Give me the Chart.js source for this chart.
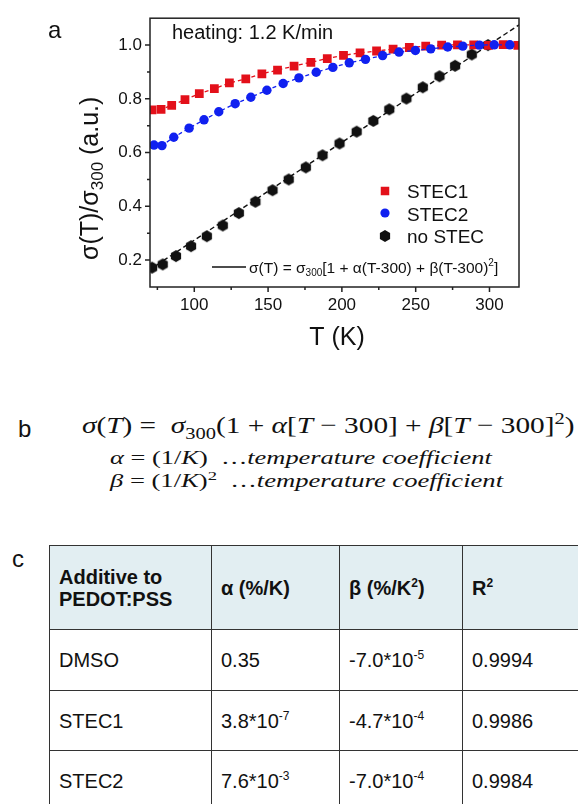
<!DOCTYPE html>
<html>
<head>
<meta charset="utf-8">
<script src="https://cdn.jsdelivr.net/npm/chart.js@4.4.1/dist/chart.umd.min.js"></script>
<style>
  body { margin: 0; width: 578px; height: 804px; overflow: hidden; position: relative; background: #fff;
         font-family: Arial, "Liberation Sans", sans-serif; color: #111; }
  #chart { position: absolute; left: 0; top: 0; }
  .tag { position: absolute; font-size: 24px; line-height: 24px; }
  .eq { position: absolute; left: 0; font-family: "Liberation Serif", serif; white-space: nowrap;
        transform-origin: 0 0; color: #111; }
  .eq sub, .eq sup { line-height: 0; font-size: 70%; }
  #tbl { position: absolute; left: 49px; top: 545px; border-collapse: collapse; table-layout: fixed;
         font-size: 20px; width: 573px; }
  #tbl td { border: 1.5px solid #333; padding: 0 0 0 9px; vertical-align: middle; line-height: 22px; }
  #tbl tr.head td { background: #e2eef2; font-weight: bold; }
  #tbl sup { font-size: 12px; line-height: 0; vertical-align: 8px; }
</style>
</head>
<body>
<canvas id="chart" width="578" height="360"></canvas>

<div class="tag" style="left:18px; top:417px;">b</div>
<div class="eq" id="eq1" data-x="82" data-w="493" style="top:413px; font-size:24px; line-height:24px;"><i>σ</i>(<i>T</i>) =&nbsp; <i>σ</i><sub>300</sub>(1 + <i>α</i>[<i>T</i> − 300] + <i>β</i>[<i>T</i> − 300]<sup>2</sup>)</div>
<div class="eq" id="eq2" data-x="110" data-w="382" style="top:448px; font-size:19px; line-height:19px;"><i>α</i> = (1/<i>K</i>)&nbsp; …<i>temperature coefficient</i></div>
<div class="eq" id="eq3" data-x="110" data-w="393" style="top:471px; font-size:19px; line-height:19px;"><i>β</i> = (1/<i>K</i>)<sup>2</sup>&nbsp; …<i>temperature coefficient</i></div>

<div class="tag" style="left:12px; top:547px;">c</div>
<table id="tbl">
  <colgroup><col style="width:162px"><col style="width:128px"><col style="width:123px"><col style="width:160px"></colgroup>
  <tr class="head" style="height:84px"><td>Additive to<br>PEDOT:PSS</td><td>α (%/K)</td><td>β (%/K<sup>2</sup>)</td><td>R<sup>2</sup></td></tr>
  <tr style="height:61px"><td>DMSO</td><td>0.35</td><td>-7.0*10<sup>-5</sup></td><td>0.9994</td></tr>
  <tr style="height:60px"><td>STEC1</td><td>3.8*10<sup>-7</sup></td><td>-4.7*10<sup>-4</sup></td><td>0.9986</td></tr>
  <tr style="height:60px"><td>STEC2</td><td>7.6*10<sup>-3</sup></td><td>-7.0*10<sup>-4</sup></td><td>0.9984</td></tr>
</table>

<script>
// temperature (K) and normalised conductivity sigma(T)/sigma_300
const stec1T = [71.4, 77.5, 84.7, 93.7, 103.4, 113.6, 123.8, 134.9, 145.8, 156.4, 167.6, 179.0, 190.1,
                201.1, 212.3, 223.5, 234.7, 245.7, 256.8, 267.6, 278.3, 289.3, 299.3, 309.3, 319.2];
const stec1V = [0.759, 0.761, 0.776, 0.797, 0.819, 0.838, 0.859, 0.874, 0.893, 0.907, 0.922, 0.936, 0.950,
                0.962, 0.971, 0.978, 0.985, 0.991, 0.996, 1.000, 1.001, 1.001, 0.999, 1.002, 0.999];

const stec2T = [72.7, 78.1, 86.1, 96.5, 106.6, 116.6, 127.7, 138.3, 149.2, 160.2, 170.9, 182.6,
                193.9, 205.0, 216.0, 227.6, 238.7, 249.8, 260.2, 271.7, 281.9, 293.2, 303.2, 313.8];
const stec2V = [0.628, 0.626, 0.657, 0.691, 0.722, 0.752, 0.782, 0.806, 0.832, 0.857, 0.878, 0.899,
                0.917, 0.934, 0.947, 0.961, 0.974, 0.980, 0.986, 0.993, 0.996, 1.000, 1.001, 1.001];

const noStecT = [71.4, 78.6, 87.6, 97.8, 108.5, 119.3, 130.2, 141.4, 153.0, 164.0, 175.6, 186.9,
                 198.4, 210.0, 221.3, 232.1, 243.7, 254.8, 266.1, 276.7, 288.0, 299.0];
const noStecV = [0.172, 0.184, 0.215, 0.252, 0.289, 0.329, 0.375, 0.417, 0.460, 0.500, 0.545, 0.590,
                 0.634, 0.678, 0.718, 0.761, 0.801, 0.843, 0.884, 0.923, 0.965, 1.000];

// straight fit through the no-STEC points, edge to edge
const noStecFitT = [70, 320];
const noStecFitV = [0.165, 1.075];

const xTicks = [100, 150, 200, 250, 300];
const xMinorTicks = [75, 125, 175, 225, 275];
const yTicks = [0.2, 0.4, 0.6, 0.8, 1.0];
const yMinorTicks = [0.3, 0.5, 0.7, 0.9];

const RED = "#e3101a";
const BLUE = "#1020f0";
const BLACK = "#111111";

const toPoints = (xs, ys) => xs.map((x, i) => ({ x: x, y: ys[i] }));

// hexagon marker for the no-STEC series
function hexagon(r, color) {
  const c = document.createElement("canvas");
  c.width = c.height = Math.ceil(r * 2) + 2;
  const g = c.getContext("2d");
  const m = c.width / 2;
  g.fillStyle = color;
  g.beginPath();
  for (let k = 0; k < 6; k++) {
    const a = Math.PI / 6 + k * Math.PI / 3;
    g.lineTo(m + r * Math.cos(a), m + r * Math.sin(a));
  }
  g.closePath();
  g.fill();
  return c;
}
const hexMark = hexagon(5.9, BLACK);

// draws a run of text pieces (normal, sub, sup) and returns its width
function drawRuns(ctx, runs, x, y) {
  let cx = x;
  runs.forEach((r) => {
    ctx.font = r.size + "px Arial";
    ctx.fillText(r.t, cx, y + (r.dy || 0));
    cx += ctx.measureText(r.t).width;
  });
  return cx - x;
}

const panelA = {
  id: "panelA",
  afterDraw(chart) {
    const { ctx, chartArea: a, scales: { x, y } } = chart;
    ctx.save();
    ctx.strokeStyle = "#222";
    ctx.lineWidth = 1.5;
    ctx.strokeRect(a.left, a.top, a.right - a.left, a.bottom - a.top);

    ctx.beginPath();
    xTicks.forEach((v) => { const p = x.getPixelForValue(v); ctx.moveTo(p, a.bottom); ctx.lineTo(p, a.bottom + 5); });
    xMinorTicks.forEach((v) => { const p = x.getPixelForValue(v); ctx.moveTo(p, a.bottom); ctx.lineTo(p, a.bottom + 3); });
    yTicks.forEach((v) => { const p = y.getPixelForValue(v); ctx.moveTo(a.left, p); ctx.lineTo(a.left - 5, p); });
    yMinorTicks.forEach((v) => { const p = y.getPixelForValue(v); ctx.moveTo(a.left, p); ctx.lineTo(a.left - 3, p); });
    ctx.stroke();

    ctx.fillStyle = "#111";
    ctx.textBaseline = "alphabetic";
    ctx.textAlign = "left";

    ctx.font = "24px Arial";
    ctx.fillText("a", 48, 38);

    ctx.font = "20px Arial";
    ctx.fillText("heating: 1.2 K/min", 172, 39);

    // axis titles
    ctx.font = "25px Arial";
    ctx.textAlign = "center";
    ctx.fillText("T (K)", 337, 345);
    ctx.textAlign = "left";

    ctx.save();
    ctx.translate(98, 260);
    ctx.rotate(-Math.PI / 2);
    drawRuns(ctx, [
      { t: "σ(T)/σ", size: 25 },
      { t: "300", size: 17, dy: 5 },
      { t: " (a.u.)", size: 25 }
    ], 0, 0);
    ctx.restore();

    // legend
    const lx = 385;
    ctx.fillStyle = RED;
    ctx.fillRect(lx - 4.25, 191 - 4.25, 8.5, 8.5);
    ctx.fillStyle = BLUE;
    ctx.beginPath();
    ctx.arc(lx, 213, 4.6, 0, Math.PI * 2);
    ctx.fill();
    ctx.drawImage(hexMark, lx - hexMark.width / 2, 236 - hexMark.height / 2);

    ctx.fillStyle = "#111";
    ctx.font = "19px Arial";
    ctx.fillText("STEC1", 407, 198);
    ctx.fillText("STEC2", 407, 220.5);
    ctx.fillText("no STEC", 407, 243);

    ctx.strokeStyle = "#111";
    ctx.lineWidth = 1.6;
    ctx.beginPath();
    ctx.moveTo(212, 267);
    ctx.lineTo(246, 267);
    ctx.stroke();
    drawRuns(ctx, [
      { t: "σ(T) = σ", size: 15.5 },
      { t: "300", size: 10, dy: 3 },
      { t: "[1 + α(T-300) + β(T-300)", size: 15.5 },
      { t: "2", size: 10, dy: -7 },
      { t: "]", size: 15.5 }
    ], 249, 273);

    ctx.restore();
  }
};

const tickFont = { family: "Arial", size: 17 };

new Chart(document.getElementById("chart"), {
  type: "scatter",
  data: {
    datasets: [
      {
        label: "STEC2",
        data: toPoints(stec2T, stec2V),
        showLine: true,
        borderColor: BLUE,
        borderWidth: 1.3,
        borderDash: [4, 3],
        pointStyle: "circle",
        pointRadius: 4.7,
        pointBackgroundColor: BLUE,
        pointBorderWidth: 0,
        clip: 0
      },
      {
        label: "STEC1",
        data: toPoints(stec1T, stec1V),
        showLine: true,
        borderColor: RED,
        borderWidth: 1.3,
        borderDash: [4, 3],
        pointStyle: "rect",
        pointRadius: 6.2,
        pointBackgroundColor: RED,
        pointBorderWidth: 0,
        clip: 0
      },
      {
        label: "no STEC",
        data: toPoints(noStecT, noStecV),
        showLine: false,
        pointStyle: hexMark,
        pointRadius: 5.5,
        clip: 0
      },
      {
        label: "fit",
        data: toPoints(noStecFitT, noStecFitV),
        showLine: true,
        borderColor: BLACK,
        borderWidth: 1.4,
        borderDash: [5, 3],
        pointRadius: 0,
        clip: 0
      }
    ]
  },
  options: {
    responsive: false,
    animation: false,
    devicePixelRatio: 1,
    layout: { padding: { top: 14, right: 59, left: 0, bottom: 0 } },
    plugins: { legend: { display: false }, tooltip: { enabled: false } },
    scales: {
      x: {
        type: "linear",
        min: 70,
        max: 320,
        afterBuildTicks: (s) => { s.ticks = xTicks.map((v) => ({ value: v })); },
        afterFit: (s) => { s.height = 73; },
        grid: { display: false, drawTicks: false },
        border: { display: false },
        ticks: { font: tickFont, color: "#111", padding: 8, maxRotation: 0, autoSkip: false }
      },
      y: {
        type: "linear",
        min: 0.1,
        max: 1.1,
        afterBuildTicks: (s) => { s.ticks = yTicks.map((v) => ({ value: v })); },
        afterFit: (s) => { s.width = 150; },
        grid: { display: false, drawTicks: false },
        border: { display: false },
        ticks: { font: tickFont, color: "#111", padding: 8, autoSkip: false, callback: (v) => v.toFixed(1) }
      }
    }
  },
  plugins: [panelA]
});

// stretch the equation lines to their column widths
document.querySelectorAll(".eq").forEach((el) => {
  const w = el.scrollWidth;
  const target = Number(el.dataset.w);
  el.style.left = el.dataset.x + "px";
  el.style.transform = "scaleX(" + (target / w).toFixed(4) + ")";
});
</script>
</body>
</html>
